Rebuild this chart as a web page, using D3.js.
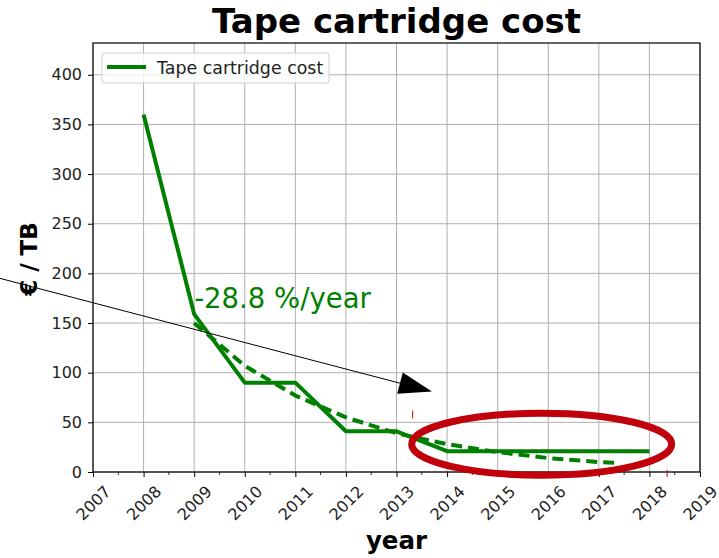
<!DOCTYPE html>
<html lang="en">
<head>
    <meta charset="utf-8">
    <title>Tape cartridge cost</title>
    <script src="https://d3js.org/d3.v7.min.js" charset="utf-8"></script>
    <style>
        body { margin: 0; background: #fff; }
        text { font-family: "DejaVu Sans", sans-serif; }
    </style>
</head>
<body>

    <script>

    // data
    var years = [2008, 2009, 2010, 2011, 2012, 2013, 2014, 2015, 2016, 2017, 2018]
    var cost = [360, 159, 90, 90, 41, 41, 21, 21, 21, 21, 21]
    var fitYears = [2009, 2010, 2011, 2012, 2013, 2014, 2015, 2016, 2017, 2017.4]
    var fitCost = [150, 107, 77, 55, 39, 28, 20, 14, 10, 9]
    var xTicks = [2007, 2008, 2009, 2010, 2011, 2012, 2013, 2014, 2015, 2016, 2017, 2018, 2019]
    var yTicks = [0, 50, 100, 150, 200, 250, 300, 350, 400]

    var w = 719
    var h = 558
    var pL = 93, pR = 700, pT = 43, pB = 472
    var green = "#008000"

    var x = d3.scaleLinear().domain([2007, 2019]).range([pL, pR])
    var y = d3.scaleLinear().domain([0, 432]).range([pB, pT])

    var svg = d3.select("body").append("svg").attr("width", w).attr("height", h)

    // grid
    svg.append("g").selectAll("line").data(xTicks).enter().append("line")
        .attr("x1", d => x(d)).attr("x2", d => x(d))
        .attr("y1", pT).attr("y2", pB)
        .attr("stroke", "#b0b0b0").attr("stroke-width", 1)
    svg.append("g").selectAll("line").data(yTicks).enter().append("line")
        .attr("x1", pL).attr("x2", pR)
        .attr("y1", d => y(d)).attr("y2", d => y(d))
        .attr("stroke", "#b0b0b0").attr("stroke-width", 1)

    // axes
    var minor = d3.range(2007.5, 2019, 1)
    svg.append("g").selectAll("line").data(minor).enter().append("line")
        .attr("x1", d => x(d)).attr("x2", d => x(d))
        .attr("y1", pB).attr("y2", pB + 3)
        .attr("stroke", "#000").attr("stroke-width", 0.8)

    var xAxis = svg.append("g").attr("transform", "translate(0," + pB + ")")
        .call(d3.axisBottom(x).tickValues(xTicks).tickFormat(d3.format("d")).tickSize(5).tickSizeOuter(0))
    xAxis.select(".domain").remove()
    xAxis.selectAll("text")
        .attr("font-size", 16).attr("fill", "#222")
        .attr("text-anchor", "middle").attr("dy", null).attr("y", null)
        .attr("transform", "translate(0,31) rotate(-45)")
        .attr("dominant-baseline", "central")
    xAxis.selectAll("line").attr("stroke", "#000")

    var yAxis = svg.append("g").attr("transform", "translate(" + pL + ",0)")
        .call(d3.axisLeft(y).tickValues(yTicks).tickSize(5).tickSizeOuter(0).tickPadding(6))
    yAxis.select(".domain").remove()
    yAxis.selectAll("text").attr("font-size", 16).attr("fill", "#222")
    yAxis.selectAll("line").attr("stroke", "#000")

    // frame
    svg.append("rect").attr("x", pL).attr("y", pT)
        .attr("width", pR - pL).attr("height", pB - pT)
        .attr("fill", "none").attr("stroke", "#000").attr("stroke-width", 1.2)

    // lines
    var line = d3.line().x(d => x(d[0])).y(d => y(d[1]))
    svg.append("path").datum(d3.zip(fitYears, fitCost)).attr("d", line)
        .attr("fill", "none").attr("stroke", green).attr("stroke-width", 4)
        .attr("stroke-dasharray", "11,6")
    svg.append("path").datum(d3.zip(years, cost)).attr("d", line)
        .attr("fill", "none").attr("stroke", green).attr("stroke-width", 4)
        .attr("stroke-linejoin", "round")

    // annotation text
    svg.append("text").attr("x", x(2009)).attr("y", y(165))
        .attr("font-size", 27.5).attr("fill", green).text("-28.8 %/year")

    // arrow
    var arrowFrom = [2005.16, 195], arrowTo = [2013.7, 81]
    var x0 = x(arrowFrom[0]), y0 = y(arrowFrom[1]), x1 = x(arrowTo[0]), y1 = y(arrowTo[1])
    var ang = Math.atan2(y1 - y0, x1 - x0)
    var headL = 33, headW = 11
    var bx = x1 - headL * Math.cos(ang), by = y1 - headL * Math.sin(ang)
    svg.append("line").attr("x1", x0).attr("y1", y0).attr("x2", bx).attr("y2", by)
        .attr("stroke", "#000").attr("stroke-width", 1)
    svg.append("path")
        .attr("d", "M" + x1 + "," + y1 +
            "L" + (bx + headW * Math.sin(ang)) + "," + (by - headW * Math.cos(ang)) +
            "L" + (bx - headW * Math.sin(ang)) + "," + (by + headW * Math.cos(ang)) + "Z")
        .attr("fill", "#000")

    // red ellipse and stray marks
    svg.append("ellipse").attr("cx", x(2015.87)).attr("cy", y(28))
        .attr("rx", 130).attr("ry", 31)
        .attr("fill", "none").attr("stroke", "#c0000a").attr("stroke-width", 7)
    svg.append("line").attr("x1", x(2013.32)).attr("x2", x(2013.32)).attr("y1", y(62)).attr("y2", y(54))
        .attr("stroke", "#c0000a").attr("stroke-width", 1)
    svg.append("line").attr("x1", x(2018.35)).attr("x2", x(2018.35)).attr("y1", y(2)).attr("y2", y(-5))
        .attr("stroke", "#c0000a").attr("stroke-width", 1)

    // legend
    var lg = svg.append("g").attr("transform", "translate(102,53)")
    lg.append("rect").attr("width", 227).attr("height", 30).attr("rx", 3)
        .attr("fill", "#fff").attr("fill-opacity", 0.8).attr("stroke", "#d0d0d0")
    lg.append("line").attr("x1", 5).attr("x2", 44).attr("y1", 14).attr("y2", 14)
        .attr("stroke", green).attr("stroke-width", 4)
    lg.append("text").attr("x", 55).attr("y", 20.5).attr("font-size", 17.4).attr("fill", "#222")
        .text("Tape cartridge cost")

    // titles
    svg.append("text").attr("x", (pL + pR) / 2).attr("y", 33)
        .attr("text-anchor", "middle").attr("font-size", 34).attr("font-weight", "bold")
        .text("Tape cartridge cost")
    svg.append("text").attr("x", (pL + pR) / 2).attr("y", 549)
        .attr("text-anchor", "middle").attr("font-size", 24.5).attr("font-weight", "bold")
        .text("year")
    svg.append("text").attr("transform", "translate(37,259) rotate(-90)")
        .attr("text-anchor", "middle").attr("font-size", 23).attr("font-weight", "bold")
        .text("€ / TB")

    </script>

</body>
</html>
